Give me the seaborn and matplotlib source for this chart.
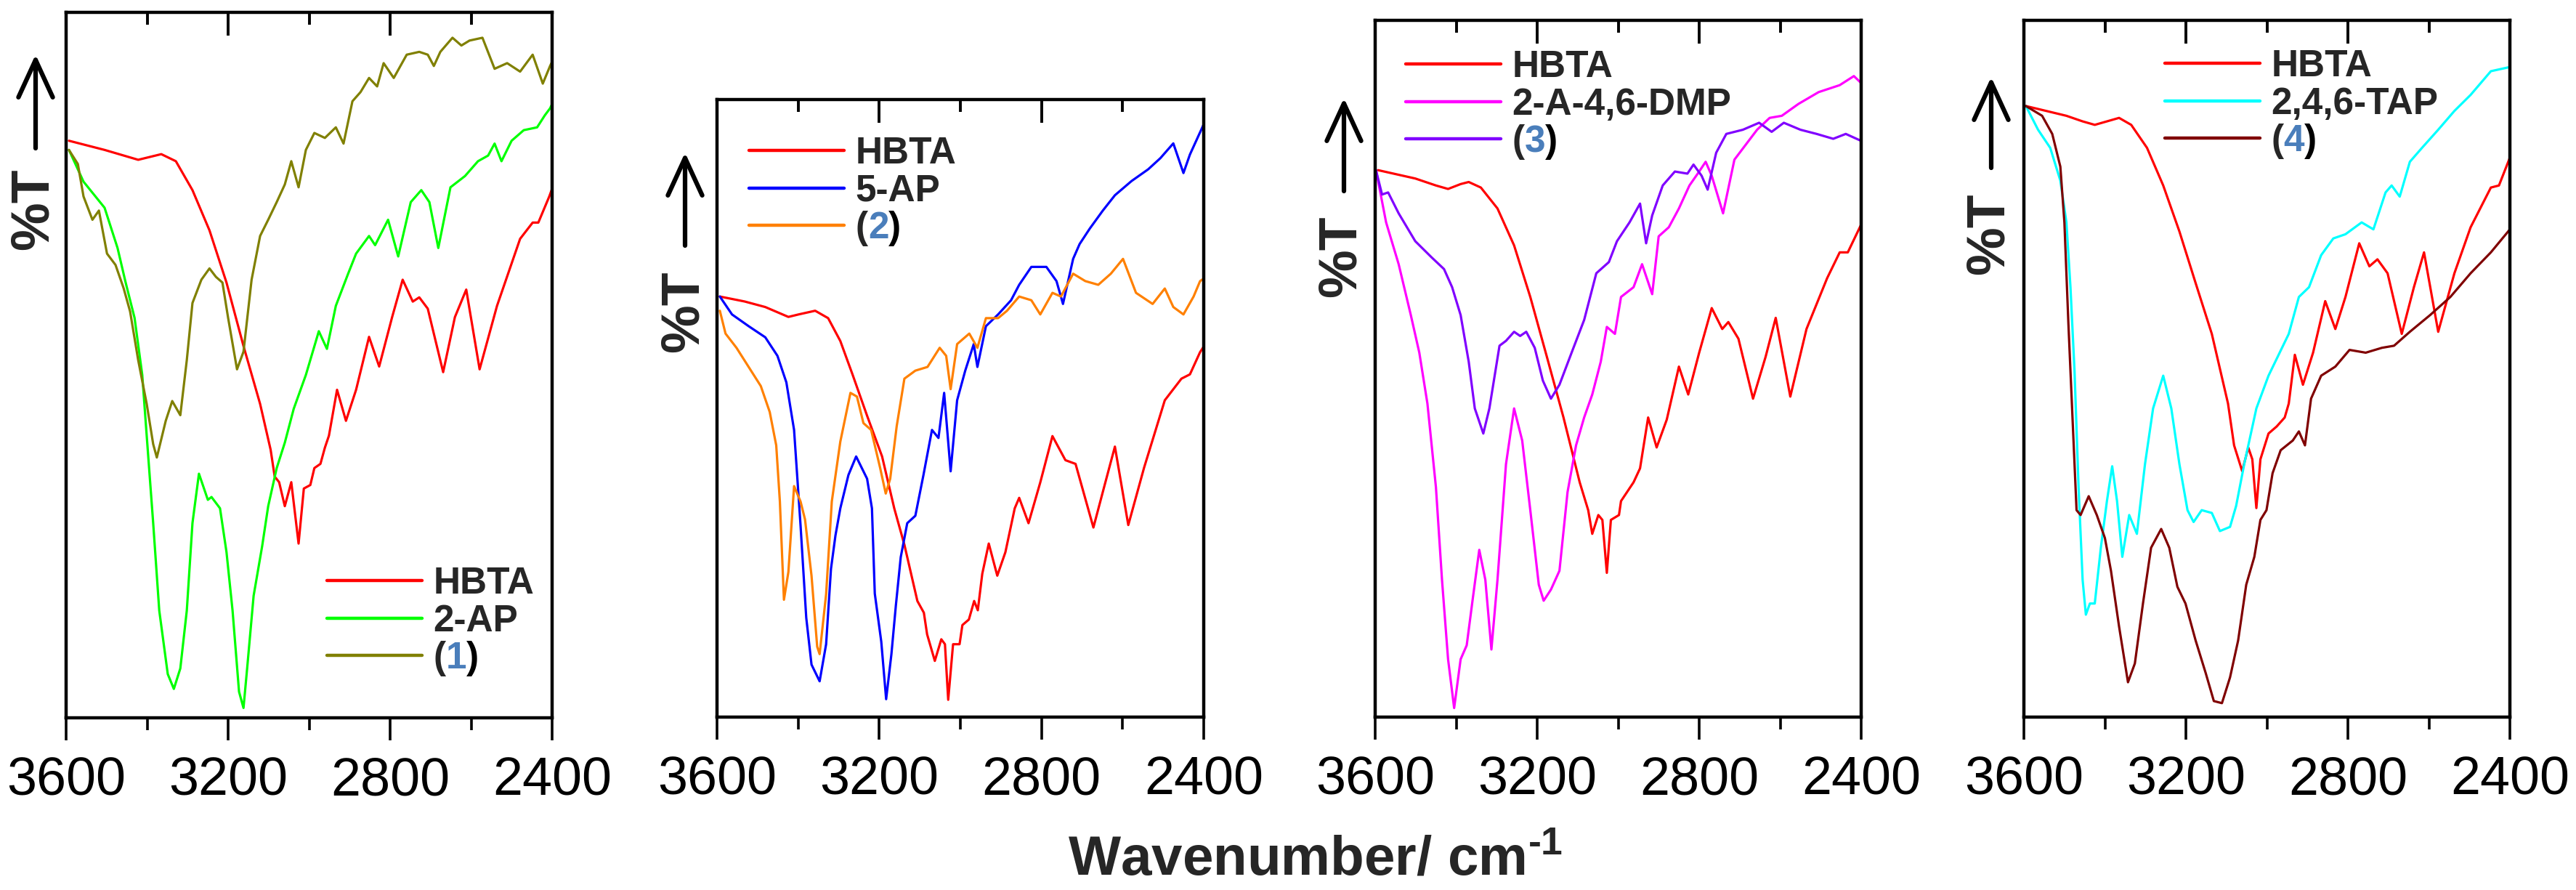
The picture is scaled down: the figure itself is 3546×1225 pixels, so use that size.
import matplotlib
matplotlib.use("Agg")
import matplotlib.pyplot as plt
from matplotlib.ticker import MultipleLocator, NullLocator
import seaborn as sns

sns.set_style("ticks")
plt.rcParams["font.family"] = ["Liberation Sans", "DejaVu Sans"]
plt.rcParams["mathtext.fontset"] = "custom"
plt.rcParams["mathtext.rm"] = "Liberation Sans:bold"
plt.rcParams["mathtext.it"] = "Liberation Sans:bold"
plt.rcParams["mathtext.bf"] = "Liberation Sans:bold"

# -----------------------------------------------------------------------------
# DATA  (wavenumber in cm-1, transmittance in arbitrary %T units, read off)
# -----------------------------------------------------------------------------
# panel 1 : HBTA / 2-AP / (1)
p1_hbta_wn = [3593, 3505, 3422, 3365, 3329, 3288, 3246, 3204, 3162, 3121, 3095, 3085,
              3074, 3060, 3044, 3026, 3013, 2997, 2987, 2972, 2961, 2951, 2931, 2909,
              2884, 2852, 2827, 2795, 2769, 2744, 2728, 2707, 2669, 2640, 2612, 2579,
              2536, 2479, 2448, 2434, 2407, 2400]
p1_hbta_t = [81.8, 80.5, 79.1, 79.9, 78.9, 74.8, 69.1, 61.7, 52.7, 44.5, 38.0, 34.2,
             33.4, 30.0, 33.4, 24.7, 32.5, 33.0, 35.4, 36.0, 38.3, 40.0, 46.5, 42.1,
             46.5, 54.0, 49.8, 56.8, 62.1, 59.0, 59.6, 58.0, 49.0, 56.8, 60.7, 49.4,
             58.4, 67.9, 70.2, 70.2, 73.9, 75.0]
p1_ap_wn = [3593, 3557, 3505, 3473, 3453, 3431, 3412, 3401, 3385, 3370, 3349, 3334,
            3318, 3302, 3288, 3272, 3250, 3241, 3220, 3204, 3189, 3173, 3162, 3153,
            3137, 3116, 3101, 3080, 3060, 3038, 3008, 2976, 2956, 2934, 2904, 2884,
            2852, 2837, 2805, 2780, 2749, 2723, 2703, 2681, 2651, 2615, 2583, 2558,
            2542, 2525, 2500, 2470, 2437, 2418, 2405, 2400]
p1_ap_t = [80.5, 76.0, 72.3, 66.6, 61.7, 56.7, 48.6, 40.0, 27.6, 15.2, 6.2, 4.1,
           7.0, 15.2, 27.6, 34.6, 30.9, 31.3, 29.7, 23.5, 15.2, 3.7, 1.4, 7.0,
           17.3, 24.3, 30.0, 35.4, 39.0, 43.8, 48.6, 54.8, 52.3, 58.4, 62.9, 65.8,
           68.3, 67.0, 70.6, 65.4, 73.1, 74.8, 73.1, 66.6, 75.2, 76.8, 78.9, 79.7,
           81.4, 78.9, 81.8, 83.3, 83.7, 85.4, 86.4, 87.0]
p1_cx_wn = [3593, 3571, 3557, 3535, 3519, 3499, 3478, 3458, 3442, 3422, 3401, 3385,
            3376, 3354, 3338, 3318, 3302, 3288, 3266, 3246, 3230, 3214, 3200, 3178,
            3162, 3142, 3121, 3101, 3080, 3060, 3044, 3026, 3008, 2987, 2961, 2934,
            2915, 2893, 2873, 2852, 2832, 2816, 2791, 2759, 2728, 2707, 2692, 2676,
            2646, 2624, 2604, 2572, 2542, 2511, 2479, 2448, 2423, 2405, 2400]
p1_cx_t = [80.5, 78.5, 73.9, 70.6, 71.9, 65.8, 64.2, 60.9, 57.6, 50.7, 44.5, 38.8,
           36.9, 42.1, 44.9, 42.9, 50.7, 58.8, 62.1, 63.7, 62.5, 61.7, 56.7, 49.4,
           51.9, 62.1, 68.3, 70.6, 73.1, 75.6, 78.9, 75.2, 80.5, 82.9, 82.2, 83.7,
           81.4, 87.4, 88.7, 90.7, 89.5, 92.8, 90.7, 94.0, 94.4, 94.0, 92.4, 94.4,
           96.4, 95.3, 96.0, 96.4, 92.0, 92.8, 91.6, 94.0, 89.9, 92.4, 93.0]

# panel 2 : HBTA / 5-AP / (2)
p2_hbta_wn = [3593, 3532, 3481, 3424, 3399, 3358, 3326, 3296, 3266, 3230, 3193, 3163,
              3138, 3106, 3090, 3082, 3063, 3047, 3038, 3030, 3018, 3002, 2995, 2979,
              2966, 2957, 2946, 2930, 2909, 2889, 2866, 2855, 2832, 2803, 2773, 2741,
              2716, 2672, 2645, 2619, 2586, 2547, 2496, 2455, 2434, 2409, 2400]
p2_hbta_t = [68.1, 67.3, 66.4, 64.8, 65.2, 65.8, 64.6, 60.9, 55.5, 48.8, 42.2, 33.8,
             27.9, 18.8, 16.9, 13.4, 9.1, 12.6, 11.8, 2.8, 11.8, 11.8, 14.9, 15.8,
             18.8, 17.3, 23.2, 28.1, 22.9, 26.7, 33.8, 35.5, 31.4, 38.0, 45.5, 41.6,
             41.0, 30.7, 37.4, 43.8, 31.1, 40.4, 51.3, 54.8, 55.5, 59.1, 60.0]
p2_ap_wn = [3593, 3563, 3522, 3481, 3451, 3429, 3410, 3394, 3380, 3367, 3347, 3331,
            3319, 3308, 3296, 3276, 3257, 3239, 3230, 3218, 3211, 3195, 3183, 3170,
            3159, 3147, 3131, 3111, 3091, 3070, 3054, 3040, 3024, 3008, 2988, 2967,
            2958, 2937, 2907, 2875, 2855, 2825, 2788, 2763, 2747, 2722, 2706, 2681,
            2649, 2619, 2578, 2537, 2507, 2475, 2450, 2434, 2409, 2400]
p2_ap_t = [68.1, 65.2, 63.3, 61.5, 58.5, 54.2, 46.5, 31.0, 16.1, 8.5, 5.8, 11.8,
           24.0, 29.4, 33.8, 39.2, 42.2, 39.8, 38.6, 33.8, 20.0, 12.2, 2.9, 10.2,
           18.1, 25.9, 31.4, 32.6, 39.2, 46.5, 45.2, 52.5, 39.8, 51.3, 56.1, 60.4,
           56.7, 63.3, 65.2, 67.5, 70.0, 72.9, 72.9, 70.6, 66.9, 74.2, 76.6, 79.1,
           82.0, 84.5, 86.8, 88.7, 90.5, 92.9, 88.1, 91.1, 94.7, 96.0]
p2_cx_wn = [3593, 3579, 3552, 3522, 3492, 3470, 3454, 3445, 3435, 3424, 3410, 3394,
            3383, 3367, 3353, 3347, 3331, 3317, 3296, 3271, 3255, 3239, 3220, 3198,
            3184, 3173, 3157, 3138, 3111, 3081, 3051, 3035, 3024, 3008, 2978, 2958,
            2937, 2907, 2885, 2855, 2825, 2803, 2773, 2752, 2722, 2692, 2660, 2629,
            2599, 2567, 2526, 2496, 2475, 2450, 2425, 2409, 2400]
p2_cx_t = [65.8, 62.1, 59.8, 56.7, 53.6, 49.4, 44.0, 34.9, 19.0, 23.5, 37.4, 34.9,
           32.0, 22.9, 11.4, 10.2, 19.9, 34.9, 44.6, 52.5, 51.9, 47.6, 46.5, 40.4,
           36.2, 38.6, 47.1, 54.8, 56.1, 56.7, 59.8, 58.5, 53.1, 60.4, 62.1, 59.8,
           64.6, 64.6, 65.8, 68.1, 67.5, 65.2, 68.7, 68.1, 71.8, 70.6, 70.0, 71.8,
           74.2, 68.7, 66.9, 69.4, 66.4, 65.2, 68.1, 70.6, 71.0]

# panel 3 : HBTA / 2-A-4,6-DMP / (3)
p3_hbta_wn = [3593, 3501, 3450, 3420, 3389, 3369, 3339, 3298, 3257, 3217, 3176, 3135,
              3095, 3074, 3064, 3049, 3039, 3028, 3018, 2998, 2993, 2962, 2946, 2926,
              2905, 2880, 2850, 2827, 2800, 2769, 2743, 2728, 2703, 2667, 2636, 2611,
              2575, 2535, 2484, 2453, 2433, 2400]
p3_hbta_t = [78.5, 77.3, 76.3, 75.8, 76.5, 76.8, 76.0, 73.0, 67.7, 60.3, 51.7, 43.0,
             33.7, 29.7, 26.3, 29.0, 28.3, 20.7, 28.3, 29.0, 31.0, 33.7, 35.7, 43.0,
             38.7, 42.7, 50.3, 46.3, 52.3, 58.7, 55.7, 56.7, 54.3, 45.7, 51.7, 57.3,
             46.0, 55.7, 63.0, 66.7, 66.7, 70.7]
p3_dmp_wn = [3598, 3573, 3542, 3512, 3491, 3471, 3450, 3435, 3420, 3405, 3389, 3374,
             3359, 3343, 3328, 3313, 3298, 3277, 3257, 3237, 3217, 3196, 3184, 3166,
             3145, 3125, 3104, 3084, 3064, 3043, 3028, 3008, 2993, 2962, 2941, 2916,
             2900, 2875, 2850, 2824, 2800, 2784, 2769, 2741, 2713, 2687, 2657, 2626,
             2596, 2555, 2505, 2453, 2418, 2400]
p3_dmp_t = [78.5, 71.0, 65.0, 57.7, 52.3, 45.0, 33.0, 19.7, 8.3, 1.3, 8.3, 10.3,
            17.0, 24.0, 19.7, 9.7, 19.7, 36.3, 44.3, 39.7, 29.7, 19.0, 16.7, 18.3,
            21.0, 32.3, 39.0, 43.0, 46.3, 51.0, 56.0, 55.0, 60.3, 61.7, 65.0, 60.7,
            69.0, 70.3, 73.0, 76.3, 78.3, 79.7, 77.7, 72.3, 80.0, 82.0, 84.3, 86.0,
            86.3, 88.0, 89.7, 90.7, 92.0, 91.0]
p3_cx_wn = [3598, 3583, 3568, 3542, 3501, 3461, 3430, 3410, 3389, 3369, 3354, 3333,
            3318, 3293, 3277, 3257, 3242, 3227, 3206, 3186, 3166, 3145, 3115, 3084,
            3054, 3023, 3003, 2972, 2946, 2931, 2916, 2890, 2860, 2829, 2814, 2794,
            2779, 2758, 2733, 2692, 2652, 2621, 2591, 2550, 2510, 2469, 2438, 2400]
p3_cx_t = [78.5, 75.0, 75.3, 72.3, 68.3, 66.0, 64.3, 61.7, 57.7, 51.0, 44.3, 40.7,
           44.3, 53.3, 54.0, 55.3, 54.7, 55.3, 53.0, 48.3, 45.7, 47.7, 52.3, 57.0,
           63.7, 65.3, 68.3, 71.0, 73.7, 68.0, 72.0, 76.3, 78.3, 78.0, 79.3, 77.7,
           75.7, 81.0, 83.7, 84.3, 85.3, 84.0, 85.3, 84.3, 83.7, 83.0, 83.7, 82.7]

# panel 4 : HBTA / 2,4,6-TAP / (4)
p4_hbta_wn = [3595, 3545, 3495, 3455, 3425, 3395, 3365, 3335, 3296, 3256, 3216, 3176,
              3136, 3096, 3081, 3061, 3046, 3036, 3026, 3016, 2996, 2976, 2956, 2946,
              2931, 2911, 2886, 2856, 2831, 2806, 2772, 2747, 2727, 2702, 2667, 2637,
              2612, 2577, 2537, 2497, 2447, 2427, 2400]
p4_hbta_t = [87.7, 87.0, 86.3, 85.5, 85.0, 85.5, 86.0, 85.0, 81.7, 76.3, 69.7, 62.3,
             55.0, 45.0, 39.0, 35.3, 38.7, 37.0, 30.0, 37.0, 40.7, 41.7, 43.0, 45.0,
             52.0, 47.7, 52.3, 59.7, 55.7, 60.3, 68.0, 64.7, 65.7, 63.7, 55.0, 61.7,
             66.7, 55.3, 63.7, 70.3, 76.0, 76.3, 80.3]
p4_tap_wn = [3595, 3565, 3535, 3510, 3495, 3485, 3475, 3465, 3455, 3447, 3437, 3425,
             3410, 3395, 3382, 3370, 3357, 3340, 3321, 3301, 3281, 3256, 3236, 3216,
             3196, 3181, 3161, 3136, 3116, 3091, 3076, 3056, 3026, 2996, 2971, 2946,
             2921, 2896, 2866, 2836, 2806, 2766, 2737, 2707, 2692, 2672, 2647, 2617,
             2577, 2537, 2497, 2447, 2400]
p4_tap_t = [87.7, 84.3, 81.7, 77.0, 71.0, 61.7, 49.7, 33.0, 19.7, 14.7, 16.3, 16.3,
            24.3, 31.0, 36.0, 31.0, 23.0, 29.0, 26.3, 36.3, 44.3, 49.0, 44.3, 36.3,
            29.7, 28.0, 29.7, 29.3, 26.7, 27.3, 30.3, 36.3, 44.3, 49.0, 52.0, 55.0,
            60.3, 61.7, 66.3, 68.7, 69.3, 71.0, 70.0, 75.3, 76.3, 74.7, 79.7, 81.7,
            84.3, 87.0, 89.3, 92.7, 93.3]
p4_cx_wn = [3595, 3555, 3530, 3510, 3500, 3490, 3480, 3470, 3460, 3440, 3420, 3400,
            3385, 3365, 3343, 3326, 3306, 3286, 3261, 3241, 3221, 3201, 3176, 3151,
            3131, 3111, 3091, 3071, 3051, 3031, 3016, 3001, 2986, 2966, 2936, 2921,
            2906, 2891, 2866, 2831, 2796, 2756, 2716, 2686, 2647, 2597, 2547, 2497,
            2447, 2400]
p4_cx_t = [87.7, 86.3, 83.7, 79.0, 71.0, 56.3, 43.0, 29.7, 29.0, 31.7, 29.0, 25.7,
           21.0, 13.0, 5.0, 7.7, 16.3, 24.3, 27.0, 24.3, 18.7, 16.3, 11.0, 6.3,
           2.3, 2.0, 5.7, 11.0, 19.0, 23.0, 28.3, 29.7, 35.0, 38.3, 39.7, 41.0,
           39.0, 45.7, 49.0, 50.3, 52.7, 52.3, 53.0, 53.3, 55.3, 57.7, 60.3, 63.7,
           66.7, 70.0]

labels = [["HBTA", "2-AP", "(1)"],
          ["HBTA", "5-AP", "(2)"],
          ["HBTA", "2-A-4,6-DMP", "(3)"],
          ["HBTA", "2,4,6-TAP", "(4)"]]
compound_numbers = ["1", "2", "3", "4"]
colors = [["#FF0000", "#00FF00", "#808000"],
          ["#FF0000", "#0000FF", "#FF8000"],
          ["#FF0000", "#FF00FF", "#8000FF"],
          ["#FF0000", "#00FFFF", "#800000"]]
series = [[(p1_hbta_wn, p1_hbta_t), (p1_ap_wn, p1_ap_t), (p1_cx_wn, p1_cx_t)],
          [(p2_hbta_wn, p2_hbta_t), (p2_ap_wn, p2_ap_t), (p2_cx_wn, p2_cx_t)],
          [(p3_hbta_wn, p3_hbta_t), (p3_dmp_wn, p3_dmp_t), (p3_cx_wn, p3_cx_t)],
          [(p4_hbta_wn, p4_hbta_t), (p4_tap_wn, p4_tap_t), (p4_cx_wn, p4_cx_t)]]

# -----------------------------------------------------------------------------
# LAYOUT (pixels on the 3546 x 1225 canvas)
# -----------------------------------------------------------------------------
W, H = 3546, 1225
ax_rects = [(91, 17, 669, 971), (987, 137, 670, 850),
            (1893, 28, 669, 959), (2786, 28, 669, 959)]   # left, top, w, h
legend_anchor = [(0.537, 0.215), (0.066, 0.941), (0.063, 0.958), (0.29, 0.959)]
ylab_pos = [(46, 288), (941, 429), (1846, 353), (2738, 322)]
arrow_pos = [(49, 75, 204), (943, 210, 338), (1850, 135, 263), (2741, 106, 231)]
number_color = "#4A7EBB"

fig = plt.figure(figsize=(W / 100, H / 100), dpi=100)

for i in range(4):
    l, t, w, h = ax_rects[i]
    rect = [l / W, 1 - (t + h) / H, w / W, h / H]
    ax = fig.add_axes(rect)
    for (wn, tr), lab, col in zip(series[i], labels[i], colors[i]):
        sns.lineplot(x=wn, y=tr, ax=ax, color=col, lw=2.3, label=lab,
                     sort=False, estimator=None)
    ax.set_xlim(3600, 2400)
    ax.set_ylim(0, 100)
    ax.set_xlabel("")
    ax.set_ylabel("")
    ax.yaxis.set_major_locator(NullLocator())
    ax.xaxis.set_major_locator(MultipleLocator(400))
    ax.xaxis.set_minor_locator(MultipleLocator(200))
    ax.tick_params(axis="x", which="both", direction="out", width=2.6,
                   color="black", top=False, pad=16, labelsize=53,
                   labelcolor="black")
    ax.tick_params(axis="x", which="major", length=22)
    ax.tick_params(axis="x", which="minor", length=12.5)
    for sp in ax.spines.values():
        sp.set_linewidth(3.2)
        sp.set_color("black")

    leg = ax.legend(loc="upper left", bbox_to_anchor=legend_anchor[i],
                    frameon=False, borderpad=0, borderaxespad=0,
                    handlelength=2.55, handletextpad=0.3, labelspacing=0.05,
                    prop={"size": 37, "weight": "bold"})
    for ln in leg.get_lines():
        ln.set_linewidth(3.2)
    # "(n)" with the compound number in blue
    txt = leg.get_texts()[2]
    txt.set_text("(")
    num = ax.annotate(compound_numbers[i], xy=(1, 0.5), xycoords=txt,
                      va="center", ha="left", color=number_color,
                      fontsize=37, fontweight="bold", zorder=6,
                      annotation_clip=False)
    ax.annotate(")", xy=(1, 0.5), xycoords=num, va="center", ha="left",
                color="black", fontsize=37, fontweight="bold", zorder=6,
                annotation_clip=False)

    # top ticks pointing inwards: a bare overlay axes on the same rectangle
    tx = fig.add_axes(rect, frameon=False, zorder=5)
    tx.patch.set_visible(False)
    tx.set_xlim(3600, 2400)
    tx.set_ylim(0, 100)
    tx.xaxis.set_major_locator(MultipleLocator(400))
    tx.xaxis.set_minor_locator(MultipleLocator(200))
    tx.yaxis.set_major_locator(NullLocator())
    tx.xaxis.tick_top()
    tx.tick_params(axis="x", which="both", direction="in", width=2.8,
                   color="black", top=True, bottom=False, labeltop=False,
                   labelbottom=False)
    tx.tick_params(axis="x", which="major", length=23)
    tx.tick_params(axis="x", which="minor", length=12.5)

    # %T label with upward arrow
    lx, ly = ylab_pos[i]
    fig.text(lx / W, 1 - ly / H, "%T", rotation=90, ha="center", va="center",
             fontsize=54, fontweight="bold")
    axp, tip, tail = arrow_pos[i]
    fig.add_artist(matplotlib.patches.FancyArrowPatch(
        (axp / W, 1 - tail / H), (axp / W, 1 - tip / H),
        transform=fig.transFigure,
        arrowstyle="->,head_length=1.85,head_width=0.85", mutation_scale=20,
        lw=4.5, color="black", shrinkA=0, shrinkB=0))

fig.text(1811 / W, 1 - 1205 / H, r"Wavenumber/ cm$^{\text{-1}}$", ha="center",
         va="baseline", fontsize=55, fontweight="bold")

fig.savefig("out.png", dpi=100)
